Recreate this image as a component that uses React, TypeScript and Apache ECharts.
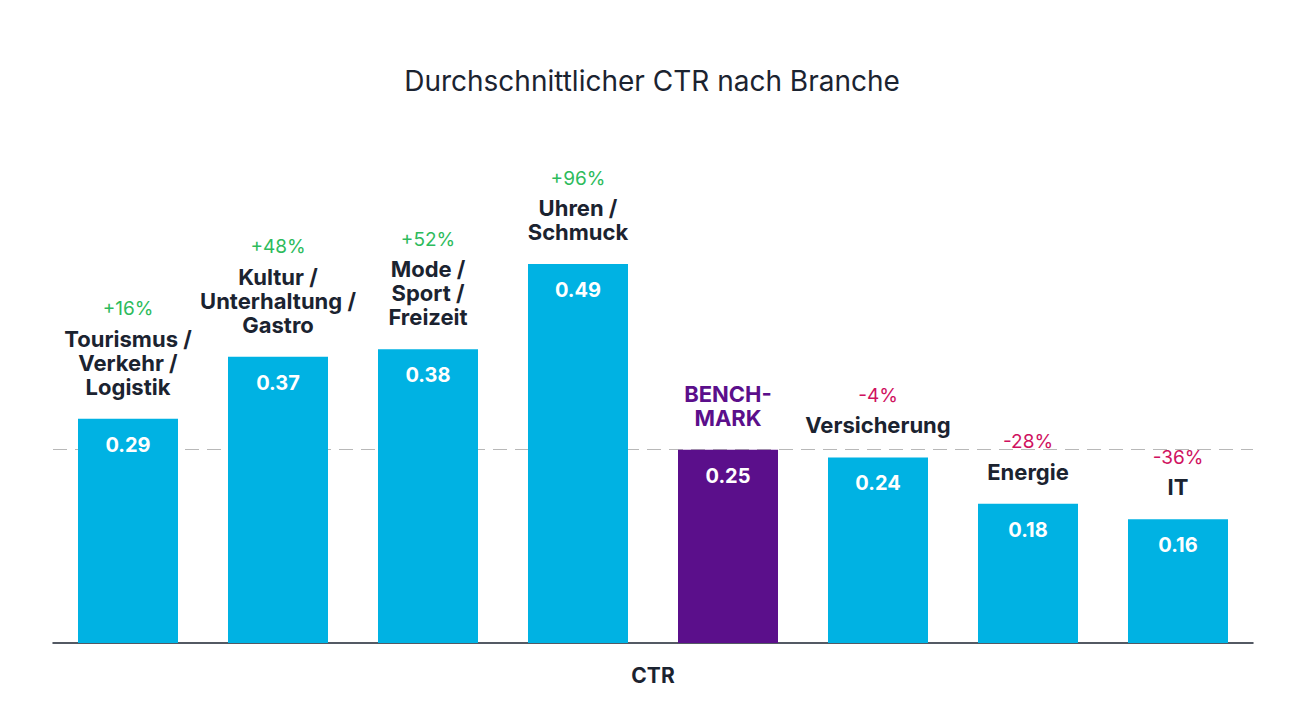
import React, { useEffect, useRef } from "react";
import * as echarts from "echarts";

const categories = [
  "Tourismus /\nVerkehr /\nLogistik",
  "Kultur /\nUnterhaltung /\nGastro",
  "Mode /\nSport /\nFreizeit",
  "Uhren /\nSchmuck",
  "BENCH-\nMARK",
  "Versicherung",
  "Energie",
  "IT",
];
const ctrValues = [0.29, 0.37, 0.38, 0.49, 0.25, 0.24, 0.18, 0.16];
const deltas = ["+16%", "+48%", "+52%", "+96%", "", "-4%", "-28%", "-36%"];
const benchmarkIndex = 4;
const benchmarkValue = 0.25;
const axisName = "CTR";
const title = "Durchschnittlicher CTR nach Branche";

const BLUE = "#00b2e3";
const PURPLE = "#5b0f8b";
const DARK = "#1b2330";
const GREEN = "#2dbb5c";
const RED = "#cf1160";
const FONT = "Inter";

export default function App() {
  const ref = useRef<HTMLDivElement>(null);
  useEffect(() => {
    if (!ref.current) return;
    const chart = echarts.init(ref.current, undefined, { renderer: "svg" });
    const topLabel = (idx: number) => {
      const lines = categories[idx].split("\n");
      const nameStyle = idx === benchmarkIndex ? "b" : "n";
      const parts: string[] = [];
      const d = deltas[idx];
      if (d) parts.push(`{${d.startsWith("-") ? "down" : "up"}|${d}}`);
      lines.forEach((l) => parts.push(`{${nameStyle}|${l}}`));
      return parts.join("\n");
    };
    chart.setOption({
      animation: false,
      title: {
        text: title,
        left: "center",
        top: 62,
        textStyle: { fontFamily: FONT, fontSize: 28, fontWeight: "normal", color: DARK },
      },
      grid: { left: 53, width: 1200, bottom: 85, top: 179 },
      xAxis: {
        type: "category",
        data: categories,
        axisLabel: { show: false },
        axisTick: { show: false },
        axisLine: { show: true, lineStyle: { color: DARK, width: 1.5 } },
        name: axisName,
        nameLocation: "middle",
        nameGap: 22,
        nameTextStyle: { fontFamily: FONT, fontSize: 21, fontWeight: "bold", color: DARK },
      },
      yAxis: { type: "value", min: 0, max: 0.6, show: false, splitLine: { show: false } },
      series: [
        {
          type: "bar",
          z: 1,
          barWidth: 100,
          barGap: "-100%",
          itemStyle: { color: "rgba(0,0,0,0)" },
          data: ctrValues,
          label: {
            show: true,
            position: "top",
            distance: 20,
            align: "center",
            formatter: (p: any) => topLabel(p.dataIndex),
            rich: {
              up: { color: GREEN, fontFamily: FONT, fontSize: 19, lineHeight: 36 },
              down: { color: RED, fontFamily: FONT, fontSize: 19, lineHeight: 36 },
              n: { color: DARK, fontFamily: FONT, fontSize: 22, fontWeight: "bold", lineHeight: 24 },
              b: { color: PURPLE, fontFamily: FONT, fontSize: 22, fontWeight: "bold", lineHeight: 24 },
            },
          },
          markLine: {
            silent: true,
            z: 0,
            symbol: "none",
            label: { show: false },
            lineStyle: { color: "#b8b8b8", type: [14, 8], width: 1 },
            data: [{ yAxis: benchmarkValue }],
          },
        },
        {
          type: "bar",
          z: 3,
          barWidth: 100,
          barGap: "-100%",
          data: ctrValues.map((v, i) => ({
            value: v,
            itemStyle: { color: i === benchmarkIndex ? PURPLE : BLUE },
          })),
          label: {
            show: true,
            position: "insideTop",
            distance: 16,
            color: "#ffffff",
            fontFamily: FONT,
            fontSize: 20,
            fontWeight: "bold",
            formatter: (p: any) => p.value.toFixed(2),
          },
        },
      ],
    });
    return () => chart.dispose();
  }, []);
  return (
    <div
      ref={ref}
      style={{ position: "absolute", left: 0, top: 0, width: 1304, height: 728, background: "#fff" }}
    />
  );
}
